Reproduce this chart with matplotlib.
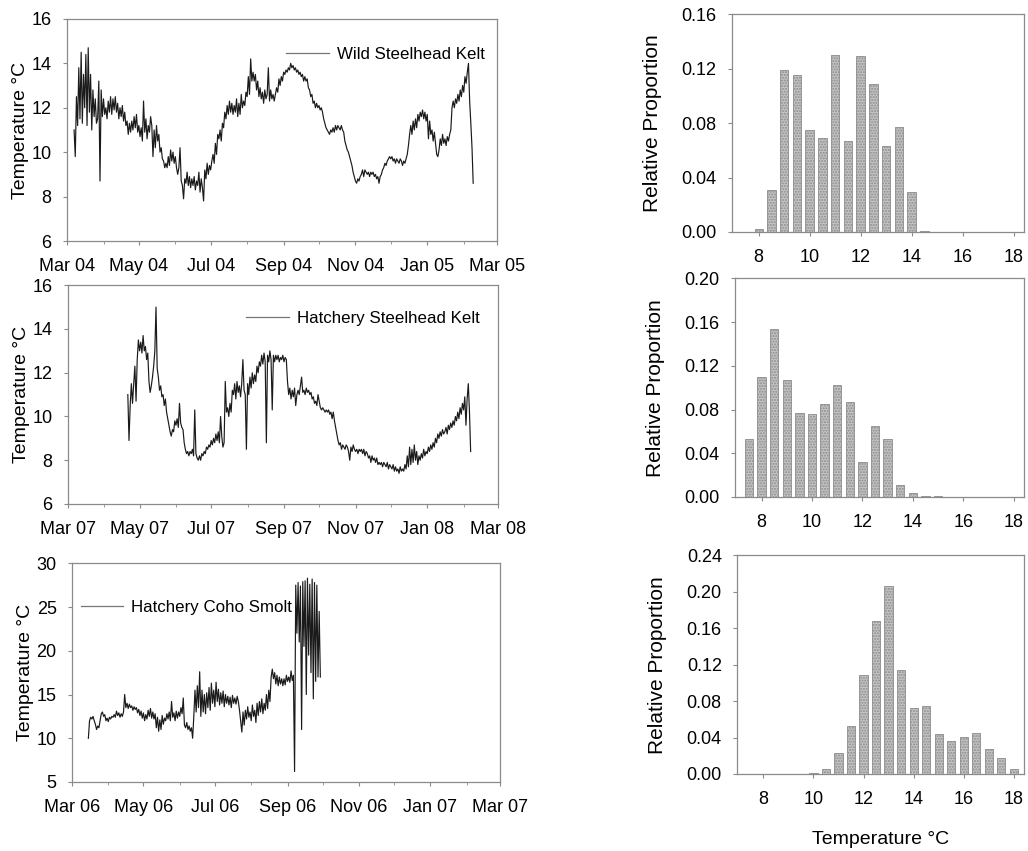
import numpy as np
import pandas as pd
import matplotlib
matplotlib.use("Agg")
import matplotlib.pyplot as plt
import matplotlib.dates as mdates

plt.rcParams['font.family'] = ['Liberation Sans', 'DejaVu Sans']
plt.rcParams['hatch.color'] = "#a0a0a0"

# daily water temperature (deg C), one value per day
wild_start = "2004-03-07"
wild_temp = [
    11.0, 9.8, 12.5, 11.2, 13.8, 11.5, 14.5, 11.3, 13.5, 12.0,
    14.4, 11.2, 14.7, 11.8, 13.5, 11.0, 12.8, 11.6, 12.4, 11.3,
    11.5, 13.2, 8.7, 12.8, 11.6, 12.4, 11.7, 12.0, 11.5, 12.3,
    11.8, 12.5, 11.7, 12.4, 11.9, 12.5, 11.8, 12.2, 11.5, 12.0,
    11.6, 12.1, 11.4, 11.8, 11.2, 11.4, 10.8, 11.3, 10.9, 11.4,
    11.0, 11.6, 11.1, 11.7, 10.9, 11.2, 10.7, 11.1, 10.5, 12.3,
    10.9, 11.5, 10.6, 11.2, 10.9, 11.6, 11.2, 9.8, 11.0, 10.2,
    11.2, 10.5, 10.8, 10.0, 10.2, 9.7, 9.6, 9.3, 9.5, 9.3,
    9.8, 9.4, 10.1, 9.6, 10.0, 9.5, 9.8, 9.3, 9.0, 9.3,
    10.2, 8.7, 8.5, 7.9, 8.8, 8.6, 9.1, 8.5, 8.9, 8.4,
    8.8, 8.5, 8.9, 8.3, 8.7, 8.5, 9.1, 8.2, 8.8, 8.4,
    7.8, 9.2, 8.8, 9.5, 9.0, 9.4, 9.2, 9.6, 9.9, 9.5,
    10.4, 9.9, 10.8, 10.6, 11.0, 10.5, 11.3, 11.1, 11.8, 11.5,
    12.1, 11.7, 12.3, 11.8, 12.2, 11.7, 12.1, 11.8, 12.4, 11.6,
    12.2, 11.7, 12.6, 12.0, 12.3, 12.1, 12.7, 12.5, 13.4, 12.6,
    14.2, 13.2, 13.6, 13.2, 13.5, 12.8, 13.2, 12.5, 12.9, 12.4,
    12.7, 12.2, 12.8, 12.4, 12.6, 13.8, 12.3, 12.8, 12.4, 12.6,
    12.3, 12.6, 12.9, 12.7, 13.3, 13.0, 13.4, 13.2, 13.6, 13.5,
    13.7, 13.6, 13.8, 13.7, 14.0, 13.8, 13.9, 13.7, 13.8, 13.6,
    13.7, 13.5, 13.6, 13.4, 13.5, 13.2, 13.4, 13.2, 13.3, 12.9,
    12.8, 12.5, 12.6, 12.2, 12.3, 12.0, 12.2, 12.0, 12.1, 11.9,
    12.0, 11.8, 11.5, 11.3, 11.1, 11.0, 10.9, 10.8, 11.0, 10.9,
    11.1, 10.9, 11.2, 11.0, 11.2, 11.1, 11.0, 11.2, 11.0, 10.9,
    10.5, 10.3, 10.1, 10.0, 9.8, 9.6, 9.4, 9.1, 8.9, 8.7,
    8.6, 8.8, 8.7, 8.9, 9.0, 9.2, 8.9, 9.2, 9.1, 9.0,
    9.1, 8.9, 9.1, 9.0, 9.1, 8.9, 9.0, 8.8, 8.9, 8.6,
    8.9, 9.0, 9.2, 9.3, 9.5, 9.4, 9.6, 9.7, 9.8, 9.7,
    9.8, 9.6, 9.7, 9.5, 9.7, 9.6, 9.5, 9.7, 9.6, 9.4,
    9.6, 9.5, 9.7, 9.9, 10.3, 10.8, 11.2, 10.8, 11.4, 11.0,
    11.5, 11.1, 11.7, 11.4, 11.8, 11.6, 11.9, 11.5, 11.8, 11.4,
    11.7, 10.6, 11.4, 10.8, 11.0, 10.5, 10.9, 10.4, 9.9, 9.8,
    10.1, 10.6, 10.3, 10.8, 10.4, 10.6, 10.3, 10.7, 10.5, 10.8,
    11.0, 12.0, 12.3, 12.0, 12.4, 12.2, 12.6, 12.3, 12.8, 12.5,
    13.0, 12.7, 13.4, 13.1, 13.6, 14.0, 12.3, 11.3, 10.2, 8.6,
]

hatch_start = "2007-04-21"
hatch_temp = [
    11.0, 8.9, 10.5, 11.5, 10.6, 11.5, 12.3, 10.7, 12.6, 13.5,
    13.0, 13.4, 12.9, 13.7, 13.0, 13.2, 12.6, 12.9, 11.6, 11.1,
    11.4, 11.8, 12.3, 13.0, 15.0, 12.2, 11.8, 11.2, 11.4, 10.9,
    11.0, 10.5, 10.8, 10.2, 9.9, 9.6, 9.3, 9.1, 9.4, 9.3,
    9.8, 9.6, 9.9, 9.5, 10.6, 9.7, 9.5, 9.4, 8.8, 8.5,
    8.3, 8.4, 8.2, 8.4, 8.3, 8.5, 8.2, 10.3, 8.3, 8.1,
    8.0, 8.2, 8.0, 8.3, 8.2, 8.4, 8.3, 8.6, 8.5, 8.7,
    8.6, 8.9, 8.7, 9.0, 8.8, 9.2, 8.9, 9.3, 8.8, 10.0,
    9.1, 8.6, 8.8, 11.6, 10.2, 10.4, 10.0, 10.6, 10.2, 11.2,
    11.0, 11.5, 10.8, 11.6, 11.1, 11.4, 10.9, 11.5, 12.6, 11.2,
    11.0, 8.5, 11.5, 11.0, 11.8, 11.3, 12.0, 11.5, 11.9, 11.6,
    12.3, 12.0, 12.5, 12.3, 12.8, 12.4, 12.9, 12.5, 8.8, 12.8,
    12.5, 13.0, 12.6, 10.3, 12.8, 12.5, 12.8, 12.6, 12.8, 12.5,
    12.7, 12.6, 12.8, 12.5, 12.7, 12.6, 11.6, 11.0, 11.3, 10.8,
    11.2, 10.9, 11.3, 10.5, 11.0, 11.2, 11.0, 11.4, 11.8, 11.1,
    11.2, 11.0, 11.3, 11.1, 11.2, 11.0, 11.1, 10.8, 10.9, 10.6,
    10.7, 10.5, 11.0, 10.7, 10.4, 10.3, 10.4, 10.3, 10.2, 10.3,
    10.2, 10.3, 10.1, 10.2, 9.9, 10.2, 9.8, 9.5, 9.2, 8.9,
    8.7, 8.8, 8.5, 8.7, 8.6, 8.5, 8.7, 8.6, 8.4, 8.0,
    8.6, 8.4, 8.7, 8.5, 8.4, 8.5, 8.3, 8.5, 8.4, 8.5,
    8.3, 8.5, 8.2, 8.4, 8.3, 8.1, 8.2, 7.9, 8.2, 8.0,
    8.1, 7.9, 8.1, 7.8, 7.9, 7.8, 7.9, 7.7, 7.9, 7.8,
    7.7, 7.9, 7.6, 7.8, 7.7, 7.6, 7.8, 7.5, 7.7, 7.5,
    7.6, 7.4, 7.7, 7.5, 7.6, 7.5, 7.8, 7.6, 8.2, 7.7,
    8.6, 7.8, 8.5, 7.9, 8.7, 8.0, 8.4, 7.8, 8.2, 8.0,
    8.3, 8.1, 8.5, 8.2, 8.4, 8.3, 8.6, 8.4, 8.7, 8.5,
    8.8, 8.6, 9.0, 8.8, 9.2, 9.0, 9.3, 9.1, 9.4, 9.2,
    9.3, 9.5, 9.2, 9.6, 9.4, 9.7, 9.5, 9.8, 9.6, 10.0,
    9.8, 10.2, 9.9, 10.4, 10.1, 10.6, 10.3, 10.9, 9.6, 10.8,
    11.5, 10.2, 8.4,
]

coho_start = "2006-03-15"
coho_temp = [
    10.0, 12.0, 12.4, 12.2, 12.5, 12.0,
    11.6, 11.0, 11.4, 11.2, 12.0, 12.8, 13.0, 12.5, 12.7, 12.0,
    12.3, 11.9, 12.4, 12.2, 12.5, 12.4, 12.7, 12.4, 13.1, 12.6,
    12.9, 12.4, 12.8, 12.5, 13.0, 15.0, 13.5, 14.0, 13.4, 13.9,
    13.5, 13.7, 13.2, 13.6, 13.3, 13.5, 12.9, 13.3, 12.6, 13.1,
    12.3, 12.9, 12.0, 12.7, 12.2, 13.2, 12.5, 13.4, 12.3, 13.0,
    12.2, 12.8, 11.2, 12.4, 10.8, 12.1, 11.0, 12.6, 11.6, 12.3,
    12.0, 12.8, 12.2, 13.0, 12.0, 14.2, 12.4, 12.9, 12.0, 13.1,
    12.3, 13.0, 12.5, 13.5, 12.8, 14.6, 11.5, 11.2, 11.8, 11.0,
    11.4, 10.8, 11.2, 10.0, 12.5, 15.5, 13.0, 16.0, 13.5, 17.6,
    12.5, 15.5, 13.0, 15.0, 12.8, 15.2, 13.5, 15.8, 13.2, 16.3,
    14.0, 15.5, 13.6, 16.4, 14.2, 15.6, 13.8, 15.2, 14.0, 15.4,
    13.6, 15.0, 14.0, 14.8, 13.8, 14.7, 13.5, 14.9, 14.0, 14.6,
    13.9, 14.8, 14.2, 13.2, 12.0, 10.7, 13.0, 11.5, 13.2, 12.2,
    13.6, 12.4, 13.0, 12.0, 13.8, 12.5, 13.2, 11.8, 14.0, 12.6,
    14.2, 13.0, 14.5, 12.8, 14.0, 13.2, 15.0, 13.4, 15.5, 14.2,
    17.0, 17.9, 16.8, 17.5, 16.2, 17.2, 16.0, 17.0, 16.2, 16.8,
    16.0, 16.8, 16.1, 17.2, 16.5, 17.0, 16.4, 17.7, 16.6, 17.2,
    6.2, 27.5, 22.0, 27.8, 21.0, 27.4, 11.0, 27.9, 20.5, 28.0,
    15.0, 28.3, 19.5, 27.6, 17.5, 28.2, 14.5, 27.8, 16.5, 27.5,
    17.0, 24.5, 17.0,
]

# relative proportion of time spent in 0.5 deg C temperature bins
wild_bins = [8.0, 8.5, 9.0, 9.5, 10.0, 10.5, 11.0, 11.5, 12.0, 12.5, 13.0, 13.5, 14.0, 14.5]
wild_prop = [0.002, 0.031, 0.119, 0.115, 0.075, 0.069, 0.130, 0.067, 0.129, 0.109, 0.063, 0.077, 0.029, 0.001]

hatch_bins = [7.5, 8.0, 8.5, 9.0, 9.5, 10.0, 10.5, 11.0, 11.5, 12.0, 12.5, 13.0, 13.5, 14.0, 14.5, 15.0]
hatch_prop = [0.053, 0.110, 0.154, 0.107, 0.077, 0.076, 0.085, 0.102, 0.087, 0.032, 0.065, 0.053, 0.011, 0.004, 0.001, 0.001]

coho_bins = [10.0, 10.5, 11.0, 11.5, 12.0, 12.5, 13.0, 13.5, 14.0, 14.5, 15.0, 15.5, 16.0, 16.5, 17.0, 17.5, 18.0]
coho_prop = [0.001, 0.006, 0.023, 0.053, 0.109, 0.168, 0.206, 0.114, 0.072, 0.075, 0.044, 0.036, 0.041, 0.045, 0.027, 0.018, 0.006]

series = [
    ("Wild Steelhead Kelt", wild_start, wild_temp, 2004, (6, 16), [6, 8, 10, 12, 14, 16], (0.51, 0.84)),
    ("Hatchery Steelhead Kelt", hatch_start, hatch_temp, 2007, (6, 16), [6, 8, 10, 12, 14, 16], (0.415, 0.85)),
    ("Hatchery Coho Smolt", coho_start, coho_temp, 2006, (5, 30), [5, 10, 15, 20, 25, 30], (0.02, 0.80)),
]
hists = [
    (wild_bins, wild_prop, 0.16, [0.0, 0.04, 0.08, 0.12, 0.16]),
    (hatch_bins, hatch_prop, 0.20, [0.0, 0.04, 0.08, 0.12, 0.16, 0.20]),
    (coho_bins, coho_prop, 0.24, [0.0, 0.04, 0.08, 0.12, 0.16, 0.20, 0.24]),
]

left_pos = [[0.0652, 0.7168, 0.418, 0.261],
            [0.0661, 0.4078, 0.418, 0.257],
            [0.0700, 0.0811, 0.416, 0.257]]
right_pos = [[0.712, 0.7274, 0.284, 0.256],
             [0.715, 0.4160, 0.281, 0.257],
             [0.717, 0.0905, 0.279, 0.257]]

frame_col = "#8a8a8a"
fig = plt.figure(figsize=(10.28, 8.51), dpi=100)

for i, (label, start, temps, yr, ylim, yticks, leg_xy) in enumerate(series):
    ax = fig.add_axes(left_pos[i])
    dates = pd.date_range(start, periods=len(temps), freq="D")
    ax.plot(dates, temps, color="#1a1a1a", lw=0.85, label=label)
    ax.set_xlim(pd.Timestamp(f"{yr}-03-01"), pd.Timestamp(f"{yr + 1}-03-01"))
    ax.set_ylim(*ylim)
    ax.set_yticks(yticks)
    ax.xaxis.set_major_locator(mdates.MonthLocator(bymonth=[1, 3, 5, 7, 9, 11]))
    ax.xaxis.set_minor_locator(mdates.MonthLocator())
    ax.xaxis.set_major_formatter(mdates.DateFormatter("%b %y"))
    ax.set_ylabel("Temperature °C", fontsize=14, labelpad=2)
    ax.tick_params(labelsize=13, length=3, width=0.8, color=frame_col)
    ax.tick_params(axis="y", pad=8)
    ax.tick_params(axis="x", pad=9)
    ax.tick_params(which="minor", length=2, width=0.6, color=frame_col)
    for s in ax.spines.values():
        s.set_color(frame_col)
        s.set_linewidth(0.9)
    leg = ax.legend(loc="center left", bbox_to_anchor=leg_xy, frameon=False,
                    fontsize=12.2, handlelength=2.5, handletextpad=0.5,
                    borderaxespad=0, borderpad=0)
    leg.get_lines()[0].set_color("#777777")
    leg.get_lines()[0].set_linewidth(0.9)

for i, (bins, prop, ytop, yticks) in enumerate(hists):
    ax = fig.add_axes(right_pos[i])
    ax.bar(bins, prop, width=0.33, color="#c4c4c4", edgecolor="#8c8c8c",
           linewidth=0.6, hatch="......")
    ax.set_xlim(6.95, 18.4)
    ax.set_ylim(0, ytop)
    ax.set_xticks([8, 10, 12, 14, 16, 18])
    ax.set_yticks(yticks)
    ax.set_yticklabels([f"{v:.2f}" for v in yticks])
    ax.set_ylabel("Relative Proportion", fontsize=15, labelpad=14)
    ax.tick_params(labelsize=13, length=3, width=0.8, color=frame_col)
    ax.tick_params(axis="y", pad=8)
    ax.tick_params(axis="x", pad=9)
    for s in ax.spines.values():
        s.set_color(frame_col)
        s.set_linewidth(0.9)
    if i == 2:
        ax.set_xlabel("Temperature °C", fontsize=14, labelpad=17)

fig.savefig("out.png", dpi=100)
